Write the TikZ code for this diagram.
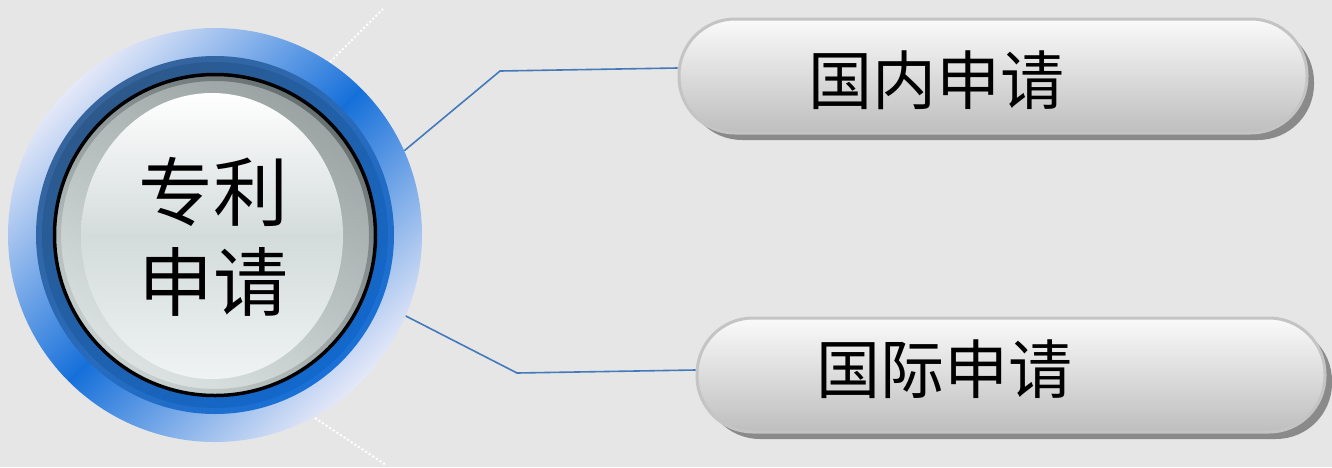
\documentclass[tikz,border=0pt]{standalone}
\usepackage{fontspec}
\newfontfamily\cjk{Noto Sans CJK SC}
\usetikzlibrary{shadows}
\definecolor{bg}{HTML}{E6E6E6}
\definecolor{ringlight}{HTML}{E4E8F8}
\definecolor{ringblue}{HTML}{1670DA}
\definecolor{darkA}{HTML}{2D598B}
\definecolor{darkB}{HTML}{1268CC}
\definecolor{darkoutA}{HTML}{36649C}
\definecolor{darkoutB}{HTML}{1A70D6}
\definecolor{rimA}{HTML}{9AA2A2}
\definecolor{rimB}{HTML}{B9C1C1}
\definecolor{rimC}{HTML}{DDE3E3}
\definecolor{rimshadeA}{HTML}{667070}
\definecolor{rimshadeB}{HTML}{C9D0D0}
\definecolor{discA}{HTML}{FFFFFF}
\definecolor{discB}{HTML}{D4DBDB}
\definecolor{discC}{HTML}{EFF3F3}
\definecolor{pillborder}{HTML}{C4C4C4}
\definecolor{pilltop}{HTML}{FAFAFA}
\definecolor{pillbot}{HTML}{BEBEBE}
\definecolor{pillshadow}{HTML}{8A8A8A}
\definecolor{connblue}{HTML}{4479BA}
\tikzset{
  pill/.style={rounded corners=56pt, minimum width=628pt, minimum height=114pt,
    inner sep=0pt, draw=pillborder, line width=3pt,
    top color=pilltop, bottom color=pillbot,
    drop shadow={shadow xshift=7pt, shadow yshift=-7pt, fill=pillshadow, opacity=1}},
  pilltext/.style={font=\cjk\fontsize{64}{70}\selectfont, text=black, inner sep=0pt},
  conn/.style={draw=connblue, line width=1.6pt},
  dots/.style={draw=white, line width=2pt, dash pattern=on 2pt off 2.3pt}
}
\begin{document}
\begin{tikzpicture}[x=1pt,y=-1pt]
\useasboundingbox (0,0) rectangle (1332,467);
\fill[bg] (0,0) rectangle (1332,467);

% dotted guide lines
\coordinate (d1a) at (330,62);
\coordinate (d1b) at (383,9);
\coordinate (d2a) at (315,418);
\coordinate (d2b) at (386,465);
\draw[dots] (d1a) -- (d1b);
\draw[dots] (d2a) -- (d2b);

% central button
\coordinate (c) at (215,235);
\shade[top color=ringlight, bottom color=ringlight, middle color=ringblue, shading angle=45]
  (c) circle[radius=207pt];
\shade[top color=darkoutA, bottom color=darkoutB, shading angle=40]
  (c) circle[radius=179pt];
\shade[top color=darkA, bottom color=darkB, shading angle=40]
  (c) circle[radius=173pt];
\shade[top color=rimA, bottom color=rimC, middle color=rimB, shading angle=-30]
  (c) circle[radius=160pt];
\shade[even odd rule, top color=rimshadeA, bottom color=rimshadeB, shading angle=-35]
  (c) circle[radius=160pt] (c) circle[radius=154pt];
\draw[line width=3.5pt, black] (c) circle[radius=160.5pt];
\shade[top color=discA, bottom color=discC, middle color=discB]
  (212,236) ellipse[x radius=131pt, y radius=143pt];
\node[circle, minimum size=414pt, inner sep=0pt] (main) at (c) {};
\node[align=center, font=\cjk\fontsize{75}{90}\selectfont, inner sep=0pt] (maintext) at (213,237) {专利\\申请};

% connectors
\coordinate (b1) at (500,71);
\coordinate (b2) at (517,373);

% boxes
\node[pill] (top) at (993,76) {};
\node[pill] (bot) at (1011,375) {};
\node[pilltext] (toptext) at (936,80) {国内申请};
\node[pilltext] (bottext) at (944,369) {国际申请};

\draw[conn] (main.24.8) -- (b1) -- ([yshift=8pt]top.west);
\draw[conn] (main.-23.5) -- (b2) -- ([yshift=5pt]bot.west);
\end{tikzpicture}
\end{document}
